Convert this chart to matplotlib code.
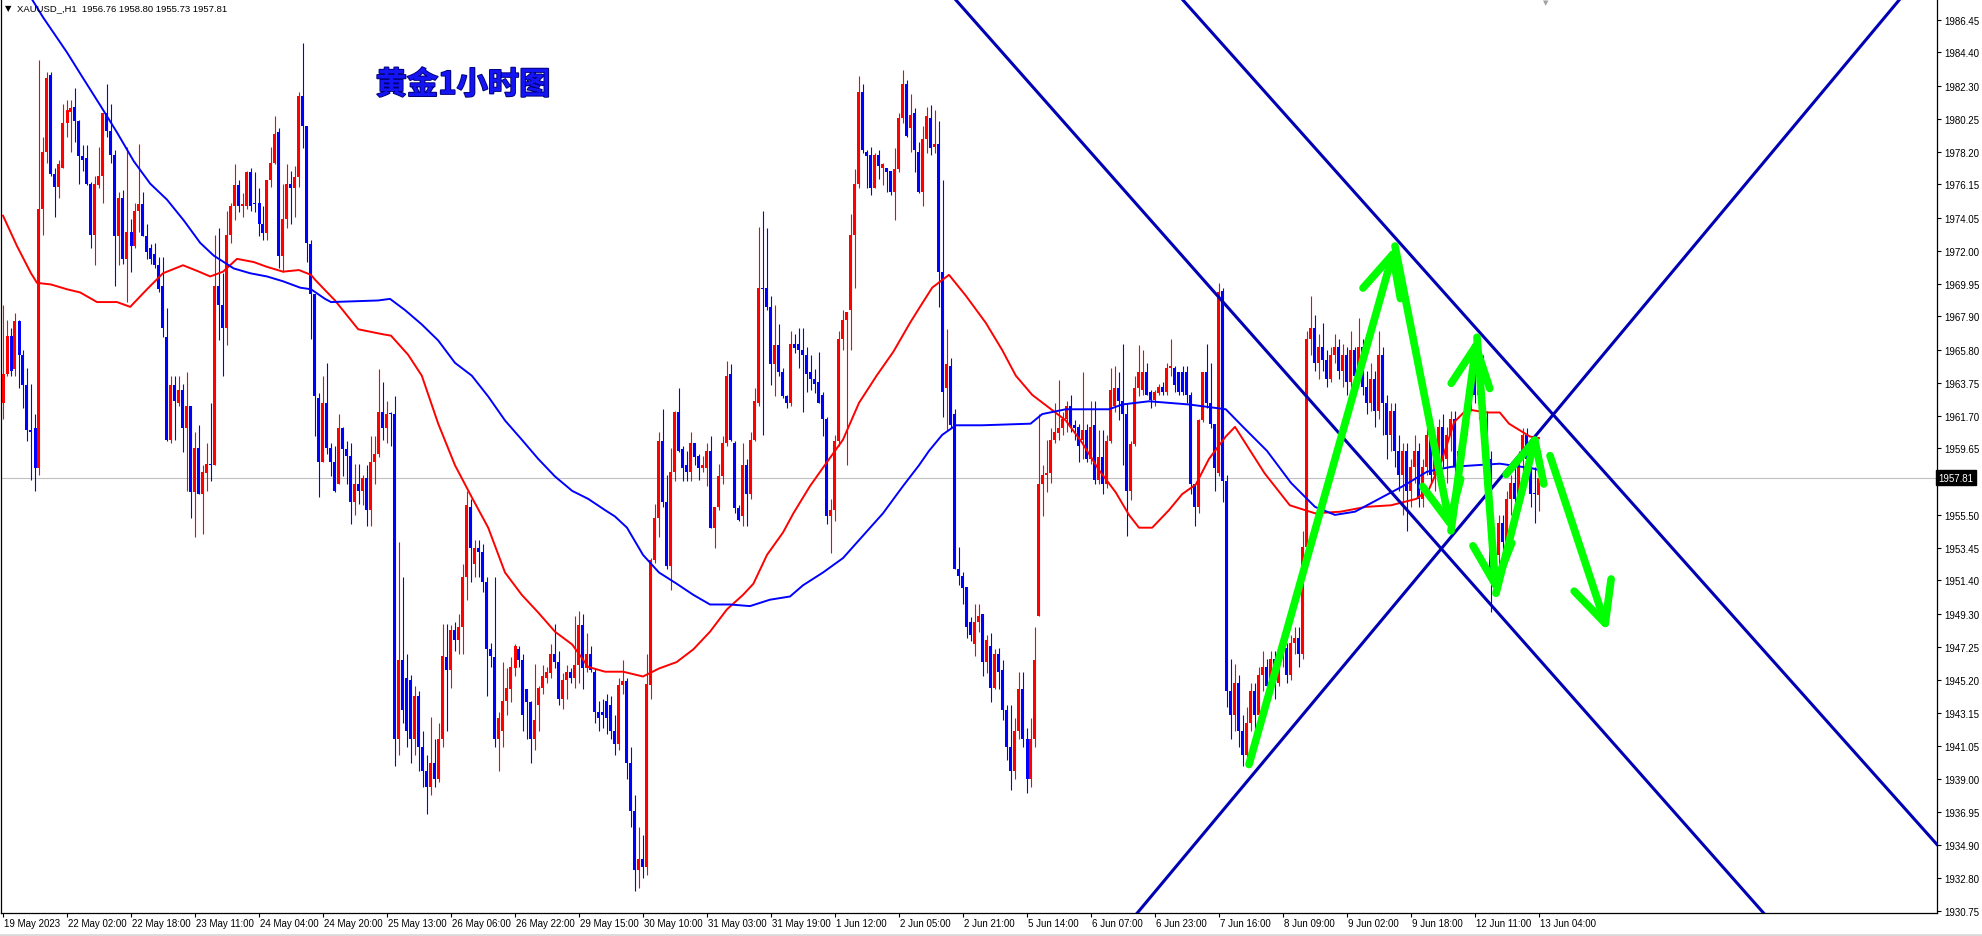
import matplotlib
matplotlib.use("Agg")
import matplotlib.pyplot as plt
import matplotlib.transforms as mtransforms
from matplotlib import patheffects as pe
from matplotlib.lines import Line2D
import numpy as np

# ---------------- data (XAUUSD H1) ----------------
opens = [
 1962.5,1964.3,1966.7,1964.6,1967.6,1965.5,1963.6,1960.8,1960.9,1958.4,
 1974.6,1978.2,1983.0,1976.8,1976.0,1977.2,1980.0,1980.7,1981.0,1980.1,
 1977.9,1977.8,1976.2,1973.0,1976.1,1976.7,1980.6,1979.5,1978.0,1972.9,
 1975.3,1971.5,1973.2,1972.3,1974.5,1974.9,1972.9,1972.2,1971.8,1971.1,
 1969.8,1966.6,1960.2,1963.6,1962.5,1963.3,1960.9,1962.3,1956.9,1959.7,
 1956.8,1958.1,1958.7,1958.6,1969.8,1968.6,1967.2,1973.0,1974.8,1976.1,
 1974.8,1974.8,1976.9,1974.9,1975.0,1973.7,1973.1,1976.4,1977.5,1979.4,
 1971.7,1974.0,1976.2,1975.9,1976.6,1981.7,1979.8,1972.4,1969.3,1962.8,
 1958.8,1962.5,1959.7,1958.8,1957.4,1960.9,1959.6,1959.2,1956.3,1957.4,
 1957.0,1957.8,1955.8,1958.8,1959.3,1961.9,1960.9,1961.8,1961.8,1941.5,
 1946.4,1945.3,1945.2,1941.5,1944.2,1941.0,1939.5,1938.5,1940.0,1939.0,
 1941.5,1946.6,1945.8,1948.3,1947.7,1948.5,1951.6,1956.0,1952.4,1953.4,
 1953.2,1951.3,1947.1,1946.6,1941.5,1942.0,1943.9,1944.6,1945.9,1947.1,
 1946.4,1944.6,1943.8,1941.5,1943.6,1944.7,1945.3,1945.6,1946.8,1946.3,
 1944.0,1945.2,1945.7,1945.3,1946.1,1948.6,1945.9,1946.8,1945.7,1943.2,
 1943.2,1943.9,1943.6,1942.0,1941.2,1944.9,1945.1,1940.0,1937.0,1933.3,
 1934.0,1933.5,1944.9,1952.7,1955.3,1960.1,1956.3,1952.3,1958.2,1961.9,
 1959.6,1958.6,1958.2,1960.0,1959.2,1958.4,1958.4,1959.5,1954.7,1956.0,
 1957.9,1960.0,1964.3,1960.0,1955.9,1955.4,1958.6,1956.8,1960.2,1962.5,
 1969.7,1969.7,1968.5,1964.9,1966.1,1964.4,1962.9,1962.5,1966.2,1966.2,
 1965.8,1965.5,1964.4,1964.0,1963.8,1963.0,1961.5,1955.4,1955.8,1960.1,
 1966.5,1967.7,1968.3,1973.0,1976.2,1981.9,1978.2,1978.0,1975.9,1978.0,
 1977.2,1977.2,1977.0,1975.7,1977.1,1980.3,1982.4,1979.7,1980.6,1978.2,
 1975.7,1979.0,1980.3,1978.5,1978.7,1970.7,1963.4,1964.8,1961.8,1952.1,
 1951.7,1951.0,1948.8,1947.4,1948.8,1949.3,1946.3,1947.3,1944.7,1946.8,
 1945.8,1943.3,1941.0,1939.5,1942.0,1944.6,1941.5,1939.0,1941.5,1949.2,
 1957.4,1958.0,1958.1,1960.2,1960.6,1960.9,1961.5,1962.3,1961.1,1961.0,
 1960.2,1960.8,1959.0,1961.1,1957.7,1959.1,1957.4,1960.1,1962.3,1963.4,
 1962.6,1961.8,1957.0,1959.9,1963.4,1963.3,1964.4,1963.2,1962.7,1963.1,
 1963.5,1963.2,1964.7,1964.7,1964.4,1964.4,1964.4,1963.0,1957.4,1956.0,
 1961.4,1964.4,1962.5,1961.2,1958.1,1969.5,1957.6,1944.5,1943.0,1945.0,
 1942.0,1940.5,1942.5,1944.5,1943.0,1945.5,1946.0,1944.8,1946.5,1945.0,
 1946.8,1947.2,1945.5,1947.5,1947.8,1946.8,1953.5,1966.5,1967.2,1965.0,
 1966.0,1965.2,1964.0,1965.5,1966.0,1964.5,1965.5,1963.8,1965.8,1964.2,
 1966.0,1963.5,1962.5,1964.0,1962.0,1965.5,1962.5,1960.5,1962.0,1959.5,
 1958.0,1959.5,1957.0,1958.5,1959.5,1956.5,1958.5,1960.5,1958.0,1959.5,
 1961.0,1959.0,1960.5,1961.5,1958.5,1959.5,1961.0,1962.5,1964.0,1963.0,
 1964.5,1961.5,1959.0,1951.4,1953.0,1955.0,1953.8,1956.5,1957.5,1956.5,
 1959.0,1960.5,1959.0,1956.8,1956.76]

highs = [
 1968.6,1967.7,1967.2,1968.1,1967.7,1965.8,1964.7,1963.7,1961.8,1983.9,
 1979.1,1983.2,1983.2,1977.2,1977.7,1981.2,1981.4,1981.4,1982.2,1980.2,
 1978.6,1978.6,1976.3,1976.7,1978.5,1980.6,1982.4,1981.2,1978.3,1975.7,
 1975.8,1978.5,1974.0,1975.0,1978.7,1975.7,1973.7,1972.4,1972.5,1971.6,
 1971.6,1968.4,1964.2,1964.2,1964.2,1963.7,1964.4,1962.3,1960.7,1961.1,
 1958.6,1960.0,1962.5,1973.0,1973.4,1970.6,1974.5,1975.0,1977.4,1976.4,
 1975.6,1977.0,1977.2,1976.9,1975.9,1974.8,1976.4,1978.5,1980.4,1979.7,
 1976.2,1977.4,1977.0,1977.3,1981.9,1985.0,1979.8,1972.7,1969.3,1963.1,
 1964.2,1965.0,1960.0,1959.8,1961.8,1961.0,1960.1,1960.0,1958.7,1958.7,
 1958.0,1958.6,1960.4,1960.4,1964.6,1963.8,1962.6,1961.9,1962.9,1953.8,
 1951.6,1946.8,1945.5,1944.8,1944.5,1942.0,1940.5,1942.9,1941.5,1942.5,
 1948.7,1948.7,1948.6,1948.8,1949.3,1952.4,1957.0,1956.5,1953.9,1953.9,
 1953.7,1951.6,1947.5,1951.6,1943.2,1946.3,1945.9,1946.6,1947.4,1947.3,
 1946.8,1944.6,1943.9,1946.2,1944.8,1946.1,1946.0,1947.4,1948.7,1947.0,
 1945.6,1946.1,1945.9,1949.2,1949.5,1949.3,1948.1,1947.3,1945.9,1943.9,
 1944.0,1944.3,1944.2,1943.0,1945.3,1946.4,1945.3,1941.0,1938.0,1936.0,
 1935.5,1946.8,1952.8,1956.2,1960.7,1962.1,1958.0,1959.7,1962.0,1963.4,
 1959.8,1959.5,1960.7,1960.0,1959.3,1959.2,1960.0,1960.4,1956.0,1958.7,
 1960.4,1965.1,1964.9,1960.1,1956.1,1960.0,1959.0,1960.7,1963.4,1973.5,
 1974.5,1973.4,1969.2,1968.6,1967.4,1964.7,1963.0,1967.0,1966.8,1967.2,
 1967.2,1966.0,1965.5,1964.6,1965.7,1963.2,1961.6,1956.5,1960.5,1967.0,
 1968.3,1968.2,1974.3,1977.1,1982.9,1982.4,1978.3,1978.5,1978.1,1978.3,
 1977.5,1977.2,1977.0,1978.4,1980.6,1983.3,1982.7,1981.8,1980.9,1978.8,
 1979.8,1981.0,1981.1,1980.8,1980.1,1976.4,1967.1,1965.3,1962.1,1953.5,
 1951.9,1951.0,1949.1,1949.9,1949.9,1949.3,1948.0,1948.1,1947.1,1947.2,
 1946.4,1943.6,1943.6,1942.8,1945.7,1945.7,1942.2,1942.8,1948.5,1961.8,
 1958.6,1960.2,1960.9,1962.5,1963.9,1961.9,1962.6,1963.0,1961.4,1961.2,
 1964.4,1961.2,1962.6,1962.6,1960.8,1960.8,1960.5,1964.7,1964.8,1964.4,
 1966.2,1962.5,1960.1,1964.2,1966.1,1965.8,1965.0,1963.3,1963.3,1963.7,
 1963.8,1965.0,1966.5,1964.8,1964.4,1964.8,1964.8,1963.2,1957.4,1961.5,
 1964.4,1966.2,1965.0,1961.2,1970.0,1969.7,1958.0,1946.5,1946.2,1945.5,
 1943.0,1943.5,1945.0,1945.0,1946.0,1947.0,1946.5,1947.0,1947.0,1947.5,
 1948.0,1947.5,1948.0,1948.5,1948.5,1954.5,1967.0,1969.2,1968.0,1966.8,
 1967.5,1965.8,1966.0,1966.8,1966.5,1966.2,1966.0,1967.0,1966.0,1967.8,
 1966.5,1964.5,1965.0,1964.5,1967.0,1966.0,1963.0,1962.5,1962.5,1960.5,
 1960.0,1960.0,1959.0,1960.5,1960.0,1959.0,1961.0,1961.5,1960.0,1961.5,
 1961.8,1961.0,1962.0,1962.0,1960.0,1961.5,1963.0,1964.5,1965.6,1965.0,
 1965.5,1962.0,1959.5,1953.5,1955.5,1955.5,1957.0,1958.0,1958.5,1959.5,
 1960.9,1960.9,1959.5,1958.5,1958.80]

lows = [
 1961.5,1964.2,1964.2,1964.2,1963.4,1962.2,1960.1,1957.7,1957.0,1958.0,
 1973.0,1977.5,1976.7,1974.1,1975.3,1977.2,1979.1,1978.2,1978.8,1976.2,
 1977.0,1976.1,1972.2,1971.1,1975.9,1975.0,1979.1,1977.5,1969.8,1971.1,
 1971.2,1968.8,1970.7,1972.2,1973.2,1972.9,1971.5,1971.2,1970.9,1969.4,
 1966.6,1960.1,1960.0,1960.2,1962.3,1959.4,1957.0,1955.3,1954.1,1956.8,
 1954.3,1957.0,1957.6,1958.6,1966.4,1964.2,1966.1,1972.5,1973.9,1974.4,
 1974.1,1974.6,1974.5,1974.4,1972.9,1972.7,1972.7,1976.0,1977.4,1970.9,
 1970.7,1973.4,1973.7,1974.1,1976.0,1978.4,1971.3,1966.5,1960.4,1956.6,
 1958.8,1959.3,1957.9,1956.9,1957.4,1957.9,1957.4,1954.9,1955.5,1956.2,
 1956.1,1954.8,1954.8,1957.4,1959.1,1960.2,1960.0,1959.8,1939.8,1940.5,
 1942.5,1941.0,1940.0,1940.5,1939.5,1938.5,1936.8,1938.0,1938.5,1938.8,
 1941.0,1942.0,1944.7,1947.0,1946.8,1946.8,1950.2,1951.3,1951.6,1951.6,
 1950.7,1944.2,1946.0,1941.0,1939.5,1941.0,1943.0,1943.8,1945.4,1946.0,
 1942.0,1941.5,1940.0,1940.8,1942.0,1944.3,1945.0,1945.3,1945.9,1943.6,
 1943.4,1944.0,1945.0,1944.7,1945.0,1944.6,1945.7,1945.7,1942.5,1942.0,
 1942.2,1941.8,1941.5,1940.5,1940.8,1944.3,1939.0,1936.0,1932.0,1932.2,
 1932.8,1933.0,1944.0,1952.5,1954.1,1956.0,1952.1,1950.8,1957.6,1959.4,
 1957.6,1957.6,1957.6,1958.6,1957.7,1958.2,1957.3,1954.7,1953.4,1955.8,
 1957.4,1959.8,1960.1,1955.6,1955.1,1954.8,1954.8,1956.5,1960.1,1962.3,
 1960.5,1968.3,1963.6,1962.9,1964.2,1962.8,1962.2,1962.3,1965.6,1964.7,
 1961.9,1963.2,1963.3,1963.1,1962.5,1960.4,1954.9,1953.1,1955.1,1959.8,
 1965.8,1958.6,1965.8,1969.7,1975.9,1978.1,1975.9,1975.5,1975.9,1976.5,
 1976.1,1975.7,1975.5,1973.9,1976.9,1980.0,1979.1,1978.2,1976.9,1975.6,
 1974.8,1978.1,1978.0,1978.1,1968.5,1961.6,1960.8,1960.9,1952.1,1951.1,
 1949.9,1947.8,1947.6,1946.7,1948.2,1945.4,1945.6,1943.8,1944.6,1944.6,
 1942.7,1940.2,1938.3,1939.0,1941.5,1941.0,1938.1,1938.5,1941.0,1949.2,
 1955.4,1956.9,1957.5,1960.0,1960.2,1960.5,1960.7,1960.7,1960.2,1958.8,
 1959.0,1958.8,1958.7,1957.4,1957.4,1956.8,1957.2,1960.0,1961.9,1961.4,
 1958.6,1954.2,1956.4,1959.8,1962.9,1963.0,1963.0,1962.2,1962.3,1963.0,
 1963.0,1963.0,1964.2,1963.2,1963.0,1963.0,1962.5,1956.8,1954.8,1955.6,
 1961.3,1962.2,1960.9,1957.0,1957.9,1956.3,1943.5,1941.5,1942.0,1941.0,
 1939.8,1940.0,1942.0,1942.0,1942.5,1944.5,1944.0,1944.5,1944.0,1944.8,
 1946.0,1945.0,1945.2,1946.8,1946.0,1946.5,1953.0,1965.5,1964.5,1964.0,
 1964.5,1963.5,1963.8,1965.0,1964.0,1963.5,1963.0,1963.5,1963.0,1964.0,
 1963.0,1961.8,1962.0,1961.0,1961.5,1960.5,1959.0,1959.5,1958.5,1957.0,
 1955.5,1954.5,1956.0,1957.5,1956.0,1956.0,1958.0,1957.5,1957.0,1959.0,
 1958.5,1957.5,1959.5,1958.0,1957.0,1959.0,1960.5,1962.0,1962.5,1961.5,
 1961.0,1958.5,1949.4,1950.5,1952.0,1953.0,1953.5,1955.5,1955.5,1956.0,
 1958.0,1958.5,1956.0,1955.0,1955.73]

closes = [
 1964.3,1966.7,1964.5,1967.6,1965.5,1963.6,1960.8,1960.7,1958.4,1974.6,
 1978.2,1982.8,1976.8,1976.0,1977.4,1980.0,1980.8,1980.9,1980.1,1977.9,
 1977.7,1976.2,1973.0,1976.2,1976.7,1980.6,1979.5,1978.0,1972.9,1975.3,
 1971.5,1973.2,1972.3,1974.5,1974.9,1972.9,1971.9,1971.5,1971.1,1969.6,
 1967.2,1960.2,1963.6,1962.6,1963.3,1960.9,1962.3,1956.9,1959.7,1956.8,
 1958.2,1958.7,1958.6,1969.8,1968.6,1967.2,1973.0,1974.8,1976.1,1974.8,
 1974.9,1976.9,1974.8,1974.9,1973.7,1973.1,1976.4,1977.5,1979.3,1971.7,
 1974.0,1976.2,1975.9,1976.6,1981.7,1979.8,1972.5,1969.3,1962.9,1958.8,
 1962.5,1959.7,1958.8,1957.0,1960.9,1959.6,1959.2,1956.3,1957.4,1957.0,
 1957.8,1955.8,1958.8,1959.3,1961.9,1960.9,1961.8,1961.8,1941.5,1946.4,
 1943.3,1942.0,1941.5,1944.2,1941.0,1939.5,1938.5,1940.0,1939.0,1941.5,
 1946.7,1945.8,1948.3,1947.7,1948.5,1951.6,1956.1,1953.4,1953.4,1953.2,
 1951.3,1947.1,1946.7,1941.5,1942.8,1943.9,1944.7,1946.0,1947.3,1946.4,
 1943.0,1943.8,1941.5,1942.7,1944.7,1945.4,1945.7,1946.8,1946.3,1944.0,
 1945.2,1945.7,1945.3,1946.1,1948.6,1945.9,1946.8,1945.8,1943.2,1942.8,
 1943.0,1942.8,1942.0,1941.2,1944.9,1945.1,1940.0,1937.0,1933.3,1934.0,
 1933.5,1944.9,1952.7,1955.3,1960.1,1956.3,1952.3,1958.2,1961.9,1959.5,
 1958.4,1958.2,1960.0,1959.1,1958.4,1958.6,1959.5,1954.7,1956.0,1957.9,
 1960.0,1964.2,1960.2,1955.9,1955.2,1958.6,1956.8,1960.2,1962.6,1969.7,
 1969.6,1968.5,1964.9,1966.1,1964.4,1962.9,1962.5,1966.2,1965.9,1965.8,
 1965.5,1964.3,1964.0,1963.7,1962.5,1961.5,1955.4,1955.8,1960.1,1966.5,
 1967.7,1968.2,1973.0,1976.2,1981.9,1978.3,1977.9,1975.9,1978.0,1977.3,
 1977.4,1976.9,1975.7,1977.1,1980.3,1982.4,1979.2,1980.5,1978.3,1975.7,
 1979.0,1980.4,1978.4,1978.7,1970.7,1963.2,1964.9,1961.1,1952.1,1951.7,
 1950.9,1948.5,1948.0,1948.8,1949.2,1946.3,1947.7,1944.7,1946.8,1945.7,
 1943.3,1941.0,1939.5,1942.0,1944.6,1941.5,1939.0,1941.5,1946.4,1957.4,
 1958.0,1958.1,1960.2,1960.7,1960.9,1961.5,1962.3,1961.0,1960.9,1959.8,
 1960.8,1959.0,1961.0,1957.7,1959.1,1957.4,1960.1,1963.3,1963.4,1962.6,
 1961.8,1957.0,1959.9,1963.4,1964.4,1964.4,1963.0,1962.7,1963.2,1963.5,
 1963.2,1964.7,1964.8,1963.6,1963.2,1963.2,1963.0,1957.4,1956.0,1961.4,
 1964.4,1962.5,1961.2,1958.4,1969.4,1957.6,1944.5,1943.0,1945.0,1942.0,
 1940.5,1942.5,1944.5,1943.0,1945.5,1946.0,1944.8,1946.5,1945.0,1946.8,
 1947.2,1945.5,1947.5,1947.8,1946.8,1953.5,1966.5,1967.2,1965.0,1966.0,
 1965.2,1964.0,1965.5,1966.0,1964.5,1965.5,1963.8,1965.8,1964.2,1966.0,
 1963.5,1962.5,1964.0,1962.0,1965.5,1962.5,1960.5,1962.0,1959.5,1958.0,
 1959.5,1957.0,1958.5,1959.5,1956.5,1958.5,1960.5,1958.0,1959.5,1961.0,
 1959.0,1960.5,1961.5,1958.5,1959.5,1961.0,1962.5,1964.0,1963.0,1964.5,
 1961.5,1959.0,1951.4,1953.0,1955.0,1953.8,1956.5,1957.5,1956.5,1959.0,
 1960.5,1959.0,1956.8,1956.8,1957.81]

# moving averages, read at sample bars
ma_red_x = [0, 3.5, 7, 8.5, 12, 16, 19.3, 23.5, 28.5, 31.8, 36, 40, 45, 49, 51.8, 55, 58.5,
            62.7, 66, 70, 74, 77, 78, 83, 88.8, 94.7, 97, 101.3, 104.7, 108.8, 113, 117.2,
            121.3, 125.5, 129.7, 133.8, 138, 142.3, 146.3, 150.5, 155, 160, 164, 168.4,
            172.6, 176.75, 181, 185, 187.6, 191, 195, 197.6, 201.75, 206, 210, 214, 218.4,
            222.6, 226.75, 229.25, 232.3, 236.5, 240.7, 245.7, 249.8, 253.2, 257.3, 261.5,
            265.7, 269.8, 274, 278.2, 281.5, 284, 287.3, 291.5, 294.8, 298.2, 301.5, 305.7,
            308, 315.4, 321.7, 328, 334.4, 340.7, 347, 353.3, 356.5, 359.7, 362.8, 366,
            370.7, 374.2, 376.5, 381.7, 384]
ma_red_y = [1974.2, 1972.3, 1970.6, 1970.0, 1969.9, 1969.6, 1969.4, 1968.8, 1968.8, 1968.5,
            1969.6, 1970.6, 1971.1, 1970.7, 1970.4, 1970.7, 1971.5, 1971.3, 1971.0, 1970.7,
            1970.8, 1970.5, 1970.2, 1968.9, 1967.1, 1966.8, 1966.7, 1965.5, 1964.2, 1961.2,
            1958.6, 1956.6, 1954.7, 1951.9, 1950.5, 1949.4, 1948.2, 1947.4, 1946.0, 1945.7,
            1945.7, 1945.4, 1945.9, 1946.3, 1947.1, 1948.2, 1949.6, 1950.5, 1951.2, 1953.0,
            1954.4, 1955.6, 1957.3, 1958.8, 1960.2, 1962.5, 1964.2, 1965.7, 1967.5, 1968.5,
            1969.7, 1970.5, 1969.2, 1967.5, 1965.8, 1964.2, 1963.0, 1962.2, 1961.4, 1960.0,
            1958.3, 1956.9, 1955.5, 1954.7, 1954.7, 1955.8, 1956.8, 1957.4, 1959.0, 1960.4,
            1961.0, 1958.1, 1956.1, 1955.6, 1955.7, 1956.0, 1956.1, 1956.5, 1957.1, 1958.9,
            1961.3, 1962.1, 1961.9, 1961.9, 1961.2, 1960.4, 1960.3]

ma_blue_x = [0, 4, 7.2, 10, 16, 20, 24.3, 28.5, 32.7, 36.8, 41, 45.2, 49.3, 52.7, 57.7, 61.8,
             66, 70, 74.3, 77, 80.5, 82, 93.8, 96.75, 100.5, 104.7, 108.8, 113, 117.2, 121.3,
             125.5, 129.7, 133.8, 138, 142.3, 146.3, 150.5, 153, 156, 160, 164, 168.4, 172.6,
             176.75, 181.75, 186.75, 191.75, 196.75, 200, 205, 210, 215, 220, 225, 229,
             231.5, 234.8, 238.2, 244.8, 256.9, 259.8, 265.7, 276.5, 279.8, 286.5, 291.5,
             296.5, 305.7, 310, 316, 322, 328, 333, 338, 344, 350, 356, 362, 368, 374.2,
             382.5, 384]
ma_blue_y = [1990.5, 1989.0, 1987.74, 1986.6, 1984.4, 1982.8, 1981.1, 1979.4, 1977.6, 1976.2,
             1975.2, 1973.9, 1972.5, 1971.7, 1970.9, 1970.6, 1970.4, 1970.1, 1969.7, 1969.6,
             1969.0, 1968.8, 1968.9, 1969.0, 1968.3, 1967.4, 1966.4, 1965.0, 1964.2, 1962.9,
             1961.4, 1960.2, 1959.0, 1957.9, 1957.0, 1956.5, 1955.8, 1955.4, 1954.7, 1953.0,
             1951.9, 1951.2, 1950.5, 1949.9, 1949.9, 1949.8, 1950.2, 1950.4, 1951.1, 1951.9,
             1952.8, 1954.2, 1955.6, 1957.3, 1958.6, 1959.5, 1960.5, 1961.1, 1961.1, 1961.2,
             1961.8, 1962.1, 1962.1, 1962.4, 1962.6, 1962.5, 1962.4, 1962.1, 1961.0, 1959.5,
             1957.5, 1956.0, 1955.5, 1955.7, 1956.5, 1957.3, 1958.2, 1958.5, 1958.6, 1958.7,
             1958.4, 1958.3]

time_labels = ["19 May 2023", "22 May 02:00", "22 May 18:00", "23 May 11:00", "24 May 04:00",
               "24 May 20:00", "25 May 13:00", "26 May 06:00", "26 May 22:00", "29 May 15:00",
               "30 May 10:00", "31 May 03:00", "31 May 19:00", "1 Jun 12:00", "2 Jun 05:00",
               "2 Jun 21:00", "5 Jun 14:00", "6 Jun 07:00", "6 Jun 23:00", "7 Jun 16:00",
               "8 Jun 09:00", "9 Jun 02:00", "9 Jun 18:00", "12 Jun 11:00", "13 Jun 04:00"]
bars_per_label = 16

price_ticks = [1986.45, 1984.40, 1982.30, 1980.25, 1978.20, 1976.15, 1974.05, 1972.00,
               1969.95, 1967.90, 1965.80, 1963.75, 1961.70, 1959.65, 1957.55, 1955.50,
               1953.45, 1951.40, 1949.30, 1947.25, 1945.20, 1943.15, 1941.05, 1939.00,
               1936.95, 1934.90, 1932.80, 1930.75]
last_price = 1957.81

# channel lines (bar, price) pairs
channel_p1 = [(294.75, 1987.74), (238.0, 1987.74), (283.5, 1930.6)]
channel_p2 = [(483.5, 1934.9), (439.5, 1930.8), (474.25, 1987.74)]

# green zig-zag forecast arrows (bar, price)
zig_x = [311.5, 348.0, 362.0, 368.5, 373.25, 383.5]
zig_y = [1939.9, 1972.3, 1954.5, 1966.6, 1950.6, 1960.7]
last_arrow_x = [386.75, 401.25]
last_arrow_y = [1959.2, 1948.2]

title_text = "黄金1小时图"
header_text = "XAUUSD_,H1  1956.76 1958.80 1955.73 1957.81"

# ---------------- figure ----------------
W, H = 1983, 937
fig = plt.figure(figsize=(W / 100, H / 100), dpi=100, facecolor="white")
ax_left, ax_right, ax_top, ax_bot = 1, 1937, 0, 914
ax = fig.add_axes([ax_left / W, (H - ax_bot) / H, (ax_right - ax_left) / W, (ax_bot - ax_top) / H])
ax.set_facecolor("white")

n = min(len(opens), len(highs), len(lows), len(closes))
o = np.array(opens[:n]); h = np.array(highs[:n]); l = np.array(lows[:n]); c = np.array(closes[:n])
h = np.maximum(h, np.maximum(o, c)); l = np.minimum(l, np.minimum(o, c))
idx = np.arange(n)
up = c > o
cols = np.where(up, "#FF0000", "#0000FF")

ax.axhline(last_price, color="#C0C0C0", lw=0.8, zorder=1)
ax.vlines(idx, l, h, colors=cols, lw=0.8, zorder=2)
body_h = np.maximum(np.abs(c - o), 0.07)
ax.bar(idx, body_h, bottom=np.minimum(o, c), width=0.75, color=cols, linewidth=0, zorder=3)

ax.plot(ma_red_x, ma_red_y, color="#FF0000", lw=1.4, zorder=4)
ax.plot(ma_blue_x, ma_blue_y, color="#0000FF", lw=1.4, zorder=4)

for p1, p2 in zip(channel_p1, channel_p2):
    ax.axline(p1, p2, color="#0000B4", lw=2.2, zorder=5)

arrow_kw = dict(arrowstyle="->,head_length=1.45,head_width=0.7", color="#00FF00", lw=5.5,
                shrinkA=0, shrinkB=0, mutation_scale=20, capstyle="round", joinstyle="round")
for k in range(len(zig_x) - 1):
    ax.annotate("", xy=(zig_x[k + 1], zig_y[k + 1]), xytext=(zig_x[k], zig_y[k]),
                arrowprops=arrow_kw, zorder=6)
ax.annotate("", xy=(last_arrow_x[1], last_arrow_y[1]), xytext=(last_arrow_x[0], last_arrow_y[0]),
            arrowprops=arrow_kw, zorder=6)

ax.set_xlim(-0.5, 483.5)
ax.set_ylim(1930.62, 1987.74)

for s in ["left", "right", "bottom"]:
    ax.spines[s].set_color("black")
    ax.spines[s].set_linewidth(0.9)
ax.spines["top"].set_visible(False)

lab_font = ["Liberation Sans", "DejaVu Sans"]
ax.yaxis.tick_right()
ax.set_yticks(price_ticks)
# the tick label right at the current price is covered by the price box in the reference
ax.set_yticklabels(["" if abs(t - last_price) < 0.5 else f"{t:.2f}" for t in price_ticks],
                   fontsize=7, family=lab_font)
ax.tick_params(axis="y", which="both", direction="out", length=3, width=0.8, pad=2,
               right=True, left=False, labelright=True, labelleft=False, colors="black")

xt = [k * bars_per_label for k in range(len(time_labels))]
ax.set_xticks(xt)
ax.set_xticklabels([""] * len(xt))
ax.tick_params(axis="x", direction="out", length=3, width=0.8)
for pos, lab in zip(xt, time_labels):
    ax.annotate(lab, xy=(pos, 0), xycoords=("data", "axes fraction"), xytext=(0.5, -3.5),
                textcoords="offset points", ha="left", va="top", fontsize=7, family=lab_font,
                annotation_clip=False)

# current price box
trans = mtransforms.blended_transform_factory(ax.transAxes, ax.transData)
ax.text(1.0008, last_price, f"{last_price:.2f}", transform=trans, ha="left", va="center",
        fontsize=7, family=lab_font, color="white", zorder=20, clip_on=False,
        bbox=dict(boxstyle="square,pad=0.25", facecolor="black", edgecolor="black"))

# header and title
fig.text(5 / W, 1 - 8.5 / H, "▼", fontsize=6, family="DejaVu Sans", va="center", ha="left", color="black")
fig.text(17 / W, 1 - 8.5 / H, header_text, fontsize=6.8, family=lab_font, va="center", ha="left", color="black")
fig.text(1546 / W, 1 - 3 / H, "▼", fontsize=5, family="DejaVu Sans", va="center", ha="center", color="#A0A0A0")
fig.text(463 / W, 1 - 86 / H, title_text, fontsize=22.5, fontweight="bold",
         family=["Noto Sans CJK SC", "DejaVu Sans"], color="#1414F5", ha="center", va="center",
         path_effects=[pe.Stroke(linewidth=1.3, foreground="#000070"), pe.Normal()])

fig.add_artist(Line2D([0, 1], [1.5 / H, 1.5 / H], color="#DADADA", lw=2))

fig.savefig("out.png", dpi=100, facecolor="white")
